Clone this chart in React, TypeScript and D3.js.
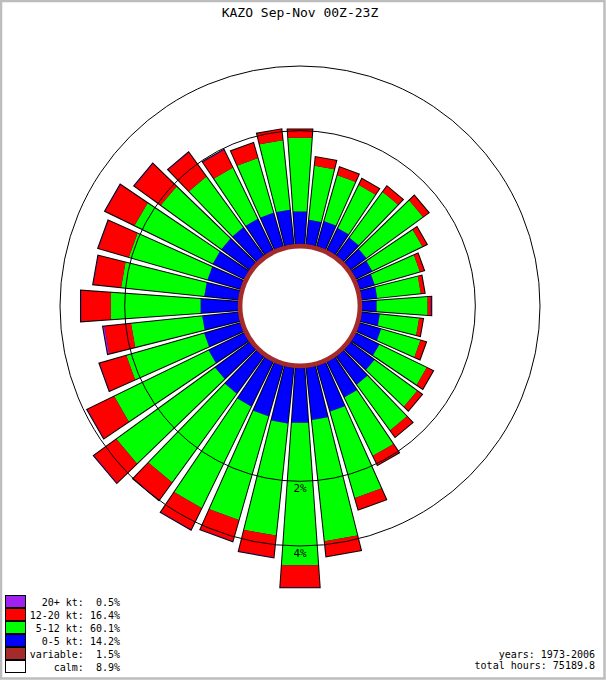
import React from 'react';
import * as d3 from 'd3';

const title = 'KAZO Sep-Nov 00Z-23Z';
const directions = [0, 10, 20, 30, 40, 50, 60, 70, 80, 90, 100, 110, 120, 130, 140, 150, 160, 170,
  180, 190, 200, 210, 220, 230, 240, 250, 260, 270, 280, 290, 300, 310, 320, 330, 340, 350];
// percent of hours per direction, by speed class
const pct0to5 = [0.38, 0.27, 0.29, 0.27, 0.24, 0.21, 0.19, 0.16, 0.16, 0.15, 0.19, 0.24, 0.29, 0.34, 0.41, 0.48, 0.61, 0.69,
  0.73, 0.75, 0.69, 0.64, 0.58, 0.53, 0.48, 0.45, 0.43, 0.45, 0.40, 0.40, 0.41, 0.41, 0.41, 0.41, 0.41, 0.41];
const pct5to12 = [1.45, 0.92, 0.80, 0.79, 0.95, 1.22, 0.90, 0.71, 0.65, 0.78, 0.59, 0.64, 0.90, 0.93, 1.06, 1.30, 2.07, 3.19,
  4.01, 2.93, 2.71, 2.83, 2.67, 3.01, 2.41, 1.69, 1.43, 1.94, 1.72, 1.67, 1.82, 1.50, 1.20, 1.06, 1.06, 1.37];
const pct12to20 = [0.21, 0.19, 0.17, 0.14, 0.15, 0.16, 0.10, 0.08, 0.07, 0.06, 0.07, 0.11, 0.15, 0.13, 0.19, 0.26, 0.37, 0.55,
  0.88, 0.78, 0.76, 0.84, 0.74, 0.99, 0.98, 0.80, 0.73, 0.90, 0.80, 0.91, 0.97, 0.91, 0.77, 0.48, 0.38, 0.28];
const pct20plus = [0, 0, 0, 0, 0, 0, 0, 0, 0, 0.01, 0, 0, 0, 0, 0, 0, 0, 0,
  0.01, 0.01, 0.01, 0.01, 0.01, 0.01, 0.01, 0.01, 0.04, 0.01, 0.01, 0.01, 0.01, 0.01, 0.01, 0.01, 0, 0];
const calmPct = 8.9;
const variablePct = 1.5;
const ringValues = [2, 4];
const ringLabels = ['2%', '4%'];

const speedColors = ['#0000ff', '#00ff00', '#ff0000', '#a020f0'];
const legendLabels = ['20+ kt:  0.5%', '12-20 kt: 16.4%', '5-12 kt: 60.1%', '0-5 kt: 14.2%', 'variable:  1.5%', 'calm:  8.9%'];
const legendColors = ['#a020f0', '#ff0000', '#00ff00', '#0000ff', '#a52a2a', '#ffffff'];
const footer = ['years: 1973-2006', 'total hours: 75189.8'];

const W = 606, H = 680;
const cx = 300, cy = 306;
const base = (calmPct + variablePct) / directions.length;
const rScale = d3.scaleSqrt().domain([0, 4 + base]).range([0, 240]);
const r = (p: number) => rScale(base + p);
const halfW = 4 * Math.PI / 180;

function pt(rad: number, a: number) {
  return `${(cx + rad * Math.sin(a)).toFixed(2)},${(cy - rad * Math.cos(a)).toFixed(2)}`;
}
function quad(r0: number, r1: number, deg: number) {
  const a = deg * Math.PI / 180;
  return `M${pt(r0, a - halfW)}L${pt(r1, a - halfW)}L${pt(r1, a + halfW)}L${pt(r0, a + halfW)}Z`;
}

export default function App() {
  const series = [pct0to5, pct5to12, pct12to20, pct20plus];
  const mono = 'DejaVu Sans Mono, monospace';
  return (
    <svg width={W} height={H} style={{ position: 'absolute', left: 0, top: 0, background: '#fff' }}
      xmlns="http://www.w3.org/2000/svg">
      <rect x={0} y={0} width={W} height={H} fill="#fff" />
      <rect x={1} y={1} width={W - 2.5} height={H - 2.5} fill="none" stroke="#bdbdbd" strokeWidth={2.5} />
      <text x={cx} y={17} textAnchor="middle" fontFamily={mono} fontSize={13}>{title}</text>
      {/* bar outlines */}
      <g>
        {directions.map((d, i) => {
          const tot = series.reduce((s, arr) => s + arr[i], 0);
          return <path key={'o' + d} d={quad(r(0), r(tot), d)} fill="#000" stroke="#000" strokeWidth={2} strokeLinejoin="miter" />;
        })}
      </g>
      <g>
        {directions.map((d, i) => {
          let cum = 0;
          return series.map((arr, k) => {
            const v = arr[i];
            const p0 = cum; cum += v;
            if (v <= 0) return null;
            return <path key={d + '-' + k} d={quad(r(p0), r(cum), d)} fill={speedColors[k]} />;
          });
        })}
      </g>
      {ringValues.map((v, i) => (
        <g key={'ring' + v}>
          <circle cx={cx} cy={cy} r={r(v)} fill="none" stroke="#000" strokeWidth={1} />
          <text x={cx} y={cy + r(v) + 11} textAnchor="middle" fontFamily={mono} fontSize={11}>{ringLabels[i]}</text>
        </g>
      ))}
      <circle cx={cx} cy={cy} r={r(0)} fill="#a52a2a" />
      <circle cx={cx} cy={cy} r={rScale(calmPct / directions.length)} fill="#fff" />
      {legendLabels.map((lab, i) => (
        <g key={lab}>
          <rect x={5.5} y={595.5 + i * 13} width={20} height={12} fill={legendColors[i]} stroke="#000" />
          <text x={120} y={606 + i * 13} textAnchor="end" fontFamily={mono} fontSize={10} style={{ whiteSpace: 'pre' }}>{lab}</text>
        </g>
      ))}
      {footer.map((t, i) => (
        <text key={t} x={595} y={658 + i * 11} textAnchor="end" fontFamily={mono} fontSize={10}>{t}</text>
      ))}
    </svg>
  );
}
